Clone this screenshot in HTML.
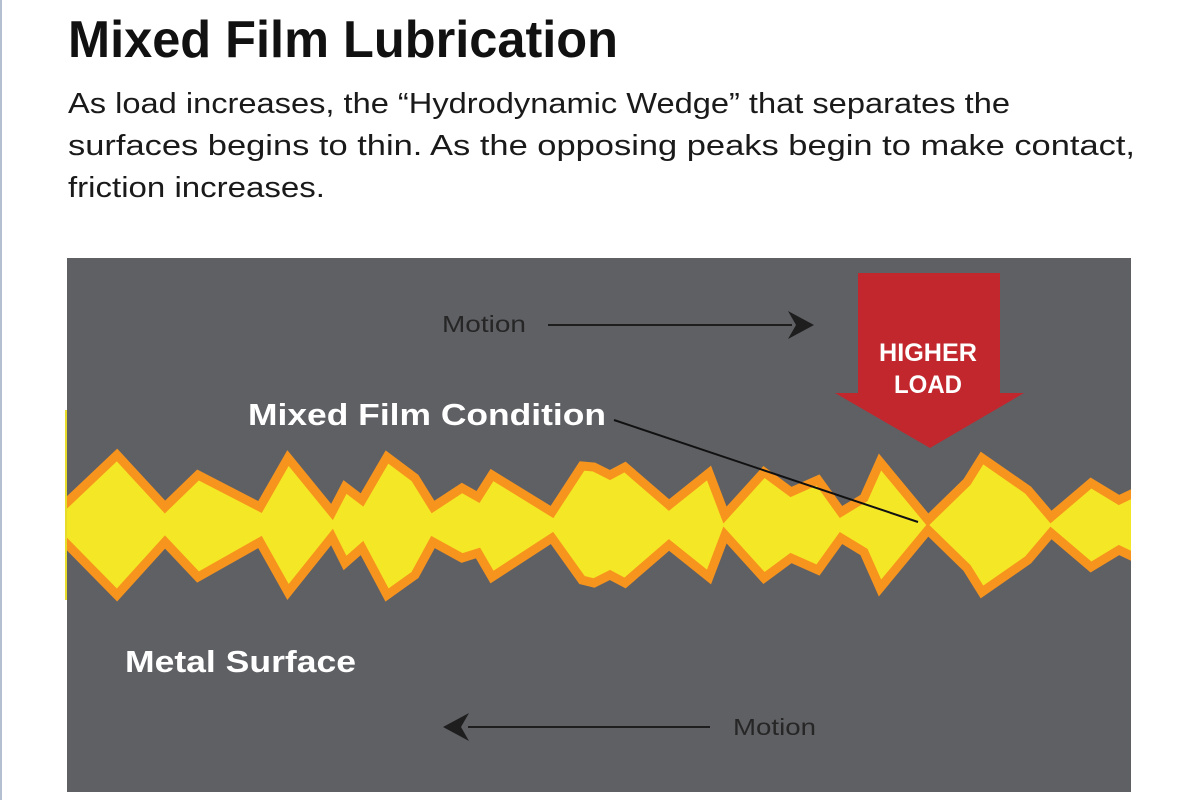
<!DOCTYPE html>
<html><head><meta charset="utf-8"><style>
html,body{margin:0;padding:0;background:#fff;width:1200px;height:800px;overflow:hidden}
</style></head><body>
<svg width="1200" height="800" viewBox="0 0 1200 800" xmlns="http://www.w3.org/2000/svg">
<rect x="0" y="0" width="1200" height="800" fill="#fff"/>
<rect x="0" y="0" width="2" height="800" fill="#b4c0d2"/>
<text x="68" y="57" font-family="Liberation Sans, sans-serif" font-weight="bold" font-size="52" fill="#111" textLength="550" lengthAdjust="spacingAndGlyphs">Mixed Film Lubrication</text>
<g font-family="Liberation Sans, sans-serif" font-size="29" fill="#1a1a1a">
<text x="68" y="113" textLength="942" lengthAdjust="spacingAndGlyphs">As load increases, the “Hydrodynamic  Wedge” that separates the</text>
<text x="68" y="155" textLength="1067" lengthAdjust="spacingAndGlyphs">surfaces begins to thin. As the opposing peaks begin to make contact,</text>
<text x="68" y="197" textLength="257" lengthAdjust="spacingAndGlyphs">friction increases.</text>
</g>
<defs><clipPath id="c"><rect x="67" y="258" width="1064" height="534"/></clipPath></defs>
<rect x="67" y="258" width="1064" height="534" fill="#5f6064"/>
<rect x="65" y="410" width="2" height="190" fill="#e8dc2a"/>
<g clip-path="url(#c)">
<polygon fill="#f4e726" points="60,503 117,455 165,507 198,475 260,507 288,458 332,512 345,487 362,500 387,457 415,478 433,507 462,488 478,497 492,475 552,512 582,466 594,467 610,475 625,467 669,505 709,473 725,515 764,472 791,492 818,480 841,512 864,498 880,462 928,520 967,482 982,458 1028,490 1051,517 1091,483 1119,500 1140,490 1140,560 1119,550 1091,567 1051,533 1028,560 982,592 967,568 928,530 880,588 864,552 841,538 818,570 791,558 764,578 725,535 709,577 669,545 625,583 610,575 594,583 582,580 552,538 492,577 478,553 462,558 433,542 415,575 387,595 362,548 345,563 332,537 288,592 260,542 198,577 165,542 117,595 60,543"/>
<g fill="none" stroke="#f7941d" stroke-width="9" stroke-linejoin="miter" stroke-miterlimit="3">
<polyline points="60,509 117,455 165,507 198,475 260,507 288,458 332,512 345,487 362,500 387,457 415,478 433,507 462,488 478,497 492,475 552,512 582,466 594,467 610,475 625,467 669,505 709,473 725,515 764,472 791,492 818,480 841,512 864,498 880,462 928,520 967,482 982,458 1028,490 1051,517 1091,483 1119,500 1140,490"/>
<polyline points="60,537 117,595 165,542 198,577 260,542 288,592 332,537 345,563 362,548 387,595 415,575 433,542 462,558 478,553 492,577 552,538 582,580 594,583 610,575 625,583 669,545 709,577 725,535 764,578 791,558 818,570 841,538 864,552 880,588 928,530 967,568 982,592 1028,560 1051,533 1091,567 1119,550 1140,560"/>
</g>
</g>
<polygon fill="#c1272d" points="858,273 1000,273 1000,393 1024,393 930,448 835,393 858,393"/>
<g font-family="Liberation Sans, sans-serif" font-weight="bold" fill="#fff" font-size="25">
<text x="928" y="361" text-anchor="middle" textLength="98" lengthAdjust="spacingAndGlyphs">HIGHER</text>
<text x="928" y="393" text-anchor="middle" textLength="68" lengthAdjust="spacingAndGlyphs">LOAD</text>
</g>
<g font-family="Liberation Sans, sans-serif" font-size="23" fill="#262626">
<text x="442" y="332" textLength="84" lengthAdjust="spacingAndGlyphs">Motion</text>
<text x="733" y="735" textLength="83" lengthAdjust="spacingAndGlyphs">Motion</text>
</g>
<line x1="548" y1="325" x2="792" y2="325" stroke="#1e1e1e" stroke-width="2"/>
<polygon fill="#1e1e1e" points="814,325 788,311 796,325 788,339"/>
<line x1="468" y1="727" x2="710" y2="727" stroke="#1e1e1e" stroke-width="2"/>
<polygon fill="#1e1e1e" points="443,727 469,713 461,727 469,741"/>
<g font-family="Liberation Sans, sans-serif" font-weight="bold" fill="#fff" font-size="31">
<text x="248" y="425" textLength="358" lengthAdjust="spacingAndGlyphs">Mixed Film Condition</text>
<text x="125" y="672" textLength="231" lengthAdjust="spacingAndGlyphs">Metal Surface</text>
</g>
<line x1="614" y1="420" x2="918" y2="522" stroke="#111" stroke-width="2"/>
</svg>
</body></html>
